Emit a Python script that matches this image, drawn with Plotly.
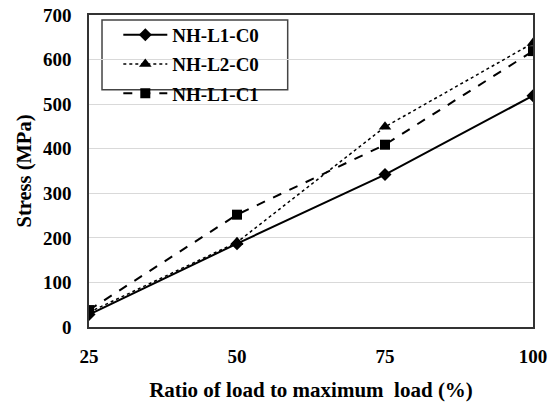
import plotly.graph_objects as go

ratio = [25, 50, 75, 100]
nh_l1_c0 = [28, 187, 342, 519]
nh_l2_c0 = [33, 190, 449, 637]
nh_l1_c1 = [38, 252, 409, 619]
y_ticks = [0, 100, 200, 300, 400, 500, 600, 700]

font_family = "Liberation Serif, Times New Roman, serif"

fig = go.Figure()
fig.add_trace(go.Scatter(x=ratio, y=nh_l1_c0, name="<b>NH-L1-C0</b>", mode="lines+markers",
                         legendgroup="a",
                         line=dict(color="black", width=2, dash="solid"),
                         marker=dict(symbol="diamond", size=10, color="black")))
fig.add_trace(go.Scatter(x=ratio, y=nh_l2_c0, name="<b>NH-L2-C0</b>", mode="lines+markers",
                         legendgroup="b",
                         line=dict(color="black", width=1.5, dash="dot"),
                         marker=dict(symbol="triangle-up", size=11, color="black")))
fig.add_trace(go.Scatter(x=ratio, y=nh_l1_c1, name="<b>NH-L1-C1</b>", mode="lines+markers",
                         legendgroup="c",
                         line=dict(color="black", width=2, dash="dash"),
                         marker=dict(symbol="square", size=10, color="black")))

# legend frame
fig.add_shape(type="rect", xref="paper", yref="paper",
              x0=0.0293, x1=0.4475, y0=0.7606, y1=0.984,
              line=dict(color="#444", width=1.5), fillcolor="white", layer="between")

fig.update_layout(
    width=556, height=405,
    margin=dict(l=89, r=23, t=15, b=78, autoexpand=False),
    paper_bgcolor="white", plot_bgcolor="white",
    font=dict(family=font_family, size=19, color="black"),
    showlegend=True,
    legend=dict(x=0.066, y=0.997, xanchor="left", yanchor="top",
                borderwidth=0, bgcolor="rgba(0,0,0,0)",
                font=dict(family=font_family, size=19, color="black"),
                tracegroupgap=1.5, itemwidth=44, traceorder="grouped"),
    xaxis=dict(range=[25, 100], tickvals=ratio, ticktext=[f"<b>{v}</b>" for v in ratio],
               showgrid=False, zeroline=False, showline=True, linecolor="#333", linewidth=1.5,
               mirror=True, ticks="", ticklabelstandoff=11, automargin=False,
               ticklabeloverflow="allow", tickfont=dict(size=19),
               title=dict(text="<b>Ratio of load to maximum&nbsp; load (%)</b>", standoff=17,
                          font=dict(size=21))),
    yaxis=dict(range=[0, 700], tickvals=y_ticks, ticktext=[f"<b>{v}</b>" for v in y_ticks],
               showgrid=True, gridcolor="#d9d9d9", gridwidth=1, zeroline=False,
               showline=True, linecolor="#333", linewidth=1.5, mirror=True, ticks="",
               ticklabelstandoff=12, automargin=False, ticklabeloverflow="allow",
               tickfont=dict(size=19),
               title=dict(text="<b>Stress (MPa)</b>", standoff=6, font=dict(size=20.5))),
)

fig.write_html("out.html", config={"displayModeBar": False},
               post_script="document.body.style.margin='0';")
